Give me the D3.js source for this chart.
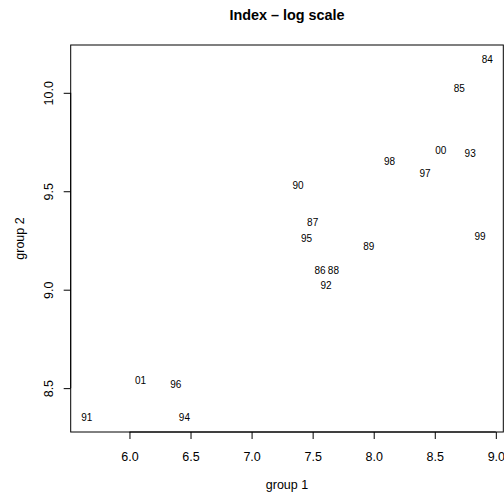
<!DOCTYPE html>
<html>
<head>
<meta charset="utf-8">
<script src="https://cdn.jsdelivr.net/npm/d3@7"></script>
<style>
  html, body { margin: 0; padding: 0; background: #fff; }
  svg { display: block; font-family: "Liberation Sans", Arial, Helvetica, sans-serif; }
</style>
</head>
<body>
<svg id="chart" width="504" height="498"></svg>
<script>
// Data
const years   = ["84","85","00","93","98","97","90","87","95","99","89","86","88","92","01","96","91","94"];
const group1  = [8.93, 8.70, 8.55, 8.79, 8.13, 8.42, 7.38, 7.50, 7.45, 8.87, 7.96, 7.56, 7.67, 7.61, 6.09, 6.38, 5.65, 6.45];
const group2  = [10.17, 10.02, 9.71, 9.69, 9.65, 9.59, 9.53, 9.34, 9.26, 9.27, 9.22, 9.10, 9.10, 9.02, 8.54, 8.52, 8.35, 8.35];
const xTicks  = [6.0, 6.5, 7.0, 7.5, 8.0, 8.5, 9.0];
const yTicks  = [8.5, 9.0, 9.5, 10.0];
const title   = "Index \u2013 log scale";
const xLabel  = "group 1";
const yLabel  = "group 2";

const svg = d3.select("#chart");
const box = { left: 70.7, right: 503.3, top: 45, bottom: 432 };

// R-style 4% padding around data range
const xe = d3.extent(group1), ye = d3.extent(group2);
const xp = (xe[1] - xe[0]) * 0.04, yp = (ye[1] - ye[0]) * 0.04;
const x = d3.scaleLinear().domain([xe[0] - xp, xe[1] + xp]).range([box.left, box.right]);
const y = d3.scaleLinear().domain([ye[0] - yp, ye[1] + yp]).range([box.bottom, box.top]);

// Axes
const xAxis = d3.axisBottom(x).tickValues(xTicks).tickFormat(d3.format(".1f")).tickSizeOuter(0).tickSizeInner(7).tickPadding(9);
const gx = svg.append("g").attr("transform", `translate(0,${box.bottom})`).call(xAxis);
gx.select(".domain").attr("d", `M${x(xTicks[0])},0H${x(xTicks[xTicks.length-1])}`).attr("stroke", "#000");
gx.selectAll(".tick line").attr("stroke", "#000");
gx.selectAll(".tick text").attr("fill", "#000").attr("font-size", "12.5px").attr("dy", null).attr("y", 29);
gx.attr("font-family", null);

const yAxis = d3.axisLeft(y).tickValues(yTicks).tickFormat(d3.format(".1f")).tickSizeOuter(0).tickSizeInner(7);
const gy = svg.append("g").attr("transform", `translate(${box.left},0)`).call(yAxis);
gy.select(".domain").attr("d", `M0,${y(yTicks[0])}V${y(yTicks[yTicks.length-1])}`).attr("stroke", "#000");
gy.selectAll(".tick line").attr("stroke", "#000");
gy.selectAll(".tick text")
  .attr("fill", "#000").attr("font-size", "12.5px")
  .attr("x", null).attr("dy", null)
  .attr("text-anchor", "middle")
  .attr("transform", "translate(-18,0) rotate(-90)");
gy.attr("font-family", null);

// Box
svg.append("rect")
  .attr("x", box.left).attr("y", box.top)
  .attr("width", box.right - box.left).attr("height", box.bottom - box.top)
  .attr("fill", "none").attr("stroke", "#000").attr("stroke-width", 1);

// Point labels
svg.append("g").selectAll("text")
  .data(years)
  .join("text")
  .attr("x", (d, i) => x(group1[i]))
  .attr("y", (d, i) => y(group2[i]))
  .attr("dy", "0.36em")
  .attr("text-anchor", "middle")
  .attr("font-size", "10px")
  .attr("fill", "#000")
  .text(d => d);

// Title and axis labels
svg.append("text").attr("x", (box.left + box.right) / 2).attr("y", 20)
  .attr("text-anchor", "middle").attr("font-weight", "bold").attr("font-size", "14.4px").text(title);
svg.append("text").attr("x", (box.left + box.right) / 2).attr("y", 489)
  .attr("text-anchor", "middle").attr("font-size", "12.5px").text(xLabel);
svg.append("text").attr("transform", `translate(24,${(box.top + box.bottom) / 2}) rotate(-90)`)
  .attr("text-anchor", "middle").attr("font-size", "12.5px").text(yLabel);
</script>
</body>
</html>
